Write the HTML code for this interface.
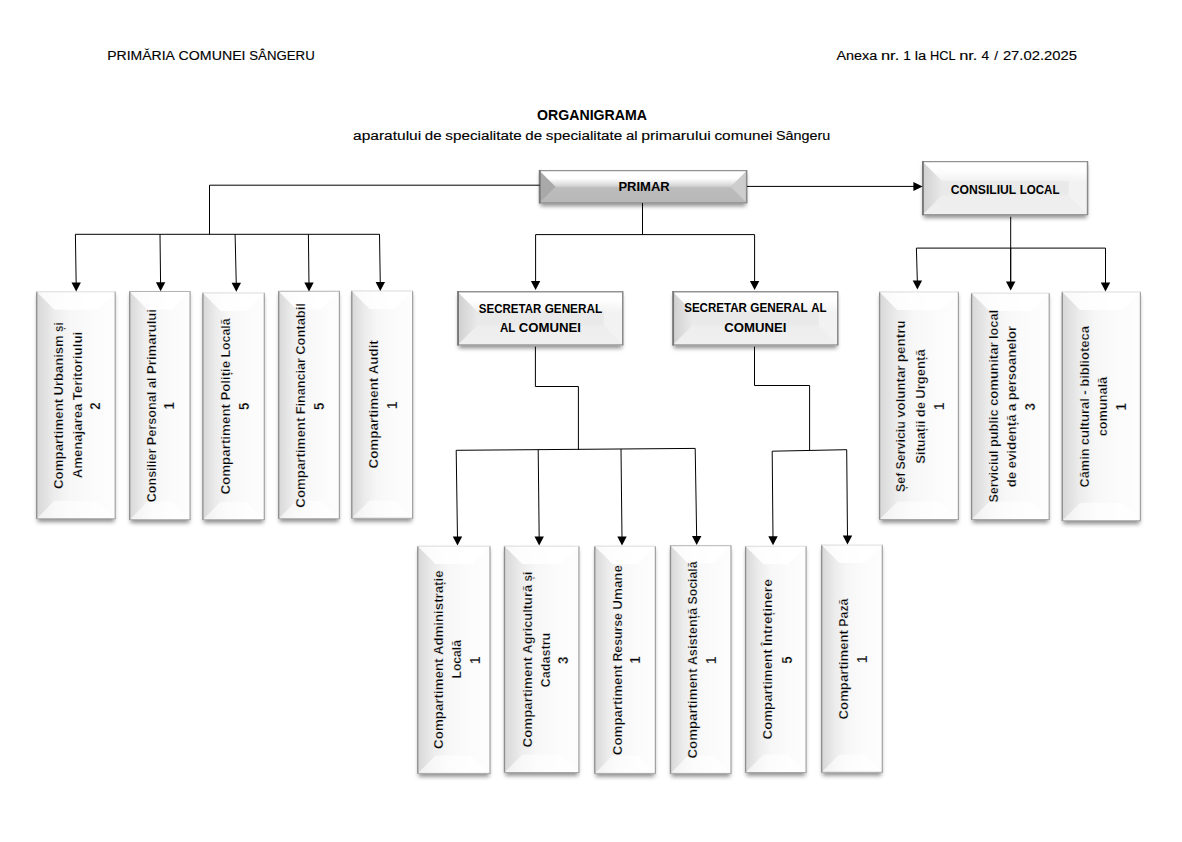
<!DOCTYPE html>
<html lang="ro"><head><meta charset="utf-8"><title>Organigrama</title>
<style>html,body{margin:0;padding:0;background:#fff}body{width:1182px;height:842px;overflow:hidden}svg{display:block}text{font-family:"Liberation Sans",sans-serif;fill:#000}.vb{stroke:#f7f7f7;stroke-width:0.3px}</style></head><body>
<svg width="1182" height="842" viewBox="0 0 1182 842">
<defs>
<filter id="sh" x="-20%" y="-20%" width="140%" height="140%"><feGaussianBlur stdDeviation="2.1"/></filter>
<linearGradient id="gv" x1="0" y1="0" x2="1" y2="0"><stop offset="0" stop-color="#d7d7d7"/><stop offset="0.22" stop-color="#ececec"/><stop offset="0.42" stop-color="#f7f7f7"/><stop offset="0.7" stop-color="#fbfbfb"/><stop offset="1" stop-color="#fdfdfd"/></linearGradient>
<linearGradient id="gh" x1="0" y1="0" x2="0" y2="1"><stop offset="0" stop-color="#ffffff"/><stop offset="0.18" stop-color="#fdfdfd"/><stop offset="0.4" stop-color="#e9e9e9"/><stop offset="1" stop-color="#ebebeb"/></linearGradient>
<linearGradient id="ghl" x1="0" y1="0" x2="1" y2="0" gradientUnits="objectBoundingBox"><stop offset="0" stop-color="#cfcfcf"/><stop offset="1" stop-color="#e9e9e9"/></linearGradient>
<linearGradient id="gp" x1="0" y1="0" x2="0" y2="1"><stop offset="0" stop-color="#ffffff"/><stop offset="0.25" stop-color="#ffffff"/><stop offset="0.4" stop-color="#e4e4e4"/><stop offset="0.55" stop-color="#c3c3c3"/><stop offset="1" stop-color="#bfbfbf"/></linearGradient>
</defs>
<rect width="1182" height="842" fill="#fff"/>
<g id="boxes">
<rect x="37.5" y="295" width="76.9" height="227" fill="#000" fill-opacity="0.44" filter="url(#sh)"/>
<rect x="36.3" y="291.5" width="79.3" height="227.5" fill="url(#gv)"/>
<polygon points="36.3,291.5 54.5,309.7 54.5,500.8 36.3,519" fill="rgba(0,0,0,0)"/>
<polygon points="115.6,291.5 97.4,309.7 97.4,500.8 115.6,519" fill="rgba(255,255,255,0.1)"/>
<polygon points="36.3,291.5 115.6,291.5 97.4,309.7 54.5,309.7" fill="rgba(255,255,255,0.85)"/>
<polygon points="36.3,519 115.6,519 97.4,500.8 54.5,500.8" fill="rgba(255,255,255,0.62)"/>
<path d="M36.7 291.5V519" stroke="#8e8e8e" stroke-width="1.3" fill="none"/>
<path d="M115.2 291.5V519" stroke="#a2a2a2" stroke-width="1.2" fill="none"/>
<path d="M36.3 291.8H115.6" stroke="#dedede" stroke-width="1" fill="none"/>
<path d="M36.3 518.7H115.6" stroke="#a6a6a6" stroke-width="1" fill="none"/>
<rect x="130.5" y="294.7" width="58.8" height="228.3" fill="#000" fill-opacity="0.44" filter="url(#sh)"/>
<rect x="129.3" y="291.2" width="61.2" height="228.8" fill="url(#gv)"/>
<polygon points="129.3,291.2 147.5,309.4 147.5,501.8 129.3,520" fill="rgba(0,0,0,0)"/>
<polygon points="190.5,291.2 172.3,309.4 172.3,501.8 190.5,520" fill="rgba(255,255,255,0.1)"/>
<polygon points="129.3,291.2 190.5,291.2 172.3,309.4 147.5,309.4" fill="rgba(255,255,255,0.85)"/>
<polygon points="129.3,520 190.5,520 172.3,501.8 147.5,501.8" fill="rgba(255,255,255,0.62)"/>
<path d="M129.7 291.2V520" stroke="#8e8e8e" stroke-width="1.3" fill="none"/>
<path d="M190.1 291.2V520" stroke="#a2a2a2" stroke-width="1.2" fill="none"/>
<path d="M129.3 291.5H190.5" stroke="#b4b4b4" stroke-width="1" fill="none"/>
<path d="M129.3 519.7H190.5" stroke="#a6a6a6" stroke-width="1" fill="none"/>
<rect x="203.7" y="296.2" width="59.8" height="226.8" fill="#000" fill-opacity="0.44" filter="url(#sh)"/>
<rect x="202.5" y="292.7" width="62.2" height="227.3" fill="url(#gv)"/>
<polygon points="202.5,292.7 220.7,310.9 220.7,501.8 202.5,520" fill="rgba(0,0,0,0)"/>
<polygon points="264.7,292.7 246.5,310.9 246.5,501.8 264.7,520" fill="rgba(255,255,255,0.1)"/>
<polygon points="202.5,292.7 264.7,292.7 246.5,310.9 220.7,310.9" fill="rgba(255,255,255,0.85)"/>
<polygon points="202.5,520 264.7,520 246.5,501.8 220.7,501.8" fill="rgba(255,255,255,0.62)"/>
<path d="M202.9 292.7V520" stroke="#8e8e8e" stroke-width="1.3" fill="none"/>
<path d="M264.3 292.7V520" stroke="#a2a2a2" stroke-width="1.2" fill="none"/>
<path d="M202.5 293H264.7" stroke="#dedede" stroke-width="1" fill="none"/>
<path d="M202.5 519.7H264.7" stroke="#a6a6a6" stroke-width="1" fill="none"/>
<rect x="279.5" y="294.5" width="59.1" height="227.5" fill="#000" fill-opacity="0.44" filter="url(#sh)"/>
<rect x="278.3" y="291" width="61.5" height="228" fill="url(#gv)"/>
<polygon points="278.3,291 296.5,309.2 296.5,500.8 278.3,519" fill="rgba(0,0,0,0)"/>
<polygon points="339.8,291 321.6,309.2 321.6,500.8 339.8,519" fill="rgba(255,255,255,0.1)"/>
<polygon points="278.3,291 339.8,291 321.6,309.2 296.5,309.2" fill="rgba(255,255,255,0.85)"/>
<polygon points="278.3,519 339.8,519 321.6,500.8 296.5,500.8" fill="rgba(255,255,255,0.62)"/>
<path d="M278.7 291V519" stroke="#8e8e8e" stroke-width="1.3" fill="none"/>
<path d="M339.4 291V519" stroke="#a2a2a2" stroke-width="1.2" fill="none"/>
<path d="M278.3 291.3H339.8" stroke="#b4b4b4" stroke-width="1" fill="none"/>
<path d="M278.3 518.7H339.8" stroke="#a6a6a6" stroke-width="1" fill="none"/>
<rect x="352.6" y="294.2" width="59.2" height="227.4" fill="#000" fill-opacity="0.44" filter="url(#sh)"/>
<rect x="351.4" y="290.7" width="61.6" height="227.9" fill="url(#gv)"/>
<polygon points="351.4,290.7 369.6,308.9 369.6,500.4 351.4,518.6" fill="rgba(0,0,0,0)"/>
<polygon points="413,290.7 394.8,308.9 394.8,500.4 413,518.6" fill="rgba(255,255,255,0.1)"/>
<polygon points="351.4,290.7 413,290.7 394.8,308.9 369.6,308.9" fill="rgba(255,255,255,0.85)"/>
<polygon points="351.4,518.6 413,518.6 394.8,500.4 369.6,500.4" fill="rgba(255,255,255,0.62)"/>
<path d="M351.8 290.7V518.6" stroke="#8e8e8e" stroke-width="1.3" fill="none"/>
<path d="M412.6 290.7V518.6" stroke="#a2a2a2" stroke-width="1.2" fill="none"/>
<path d="M351.4 291H413" stroke="#dedede" stroke-width="1" fill="none"/>
<path d="M351.4 518.3H413" stroke="#a6a6a6" stroke-width="1" fill="none"/>
<rect x="418.6" y="549.4" width="70.6" height="227.3" fill="#000" fill-opacity="0.44" filter="url(#sh)"/>
<rect x="417.4" y="545.9" width="73" height="227.8" fill="url(#gv)"/>
<polygon points="417.4,545.9 435.6,564.1 435.6,755.5 417.4,773.7" fill="rgba(0,0,0,0)"/>
<polygon points="490.4,545.9 472.2,564.1 472.2,755.5 490.4,773.7" fill="rgba(255,255,255,0.1)"/>
<polygon points="417.4,545.9 490.4,545.9 472.2,564.1 435.6,564.1" fill="rgba(255,255,255,0.85)"/>
<polygon points="417.4,773.7 490.4,773.7 472.2,755.5 435.6,755.5" fill="rgba(255,255,255,0.62)"/>
<path d="M417.8 545.9V773.7" stroke="#8e8e8e" stroke-width="1.3" fill="none"/>
<path d="M490 545.9V773.7" stroke="#a2a2a2" stroke-width="1.2" fill="none"/>
<path d="M417.4 546.2H490.4" stroke="#dedede" stroke-width="1" fill="none"/>
<path d="M417.4 773.4H490.4" stroke="#a6a6a6" stroke-width="1" fill="none"/>
<rect x="505.3" y="549.4" width="72.8" height="226.4" fill="#000" fill-opacity="0.44" filter="url(#sh)"/>
<rect x="504.1" y="545.9" width="75.2" height="226.9" fill="url(#gv)"/>
<polygon points="504.1,545.9 522.3,564.1 522.3,754.6 504.1,772.8" fill="rgba(0,0,0,0)"/>
<polygon points="579.3,545.9 561.1,564.1 561.1,754.6 579.3,772.8" fill="rgba(255,255,255,0.1)"/>
<polygon points="504.1,545.9 579.3,545.9 561.1,564.1 522.3,564.1" fill="rgba(255,255,255,0.85)"/>
<polygon points="504.1,772.8 579.3,772.8 561.1,754.6 522.3,754.6" fill="rgba(255,255,255,0.62)"/>
<path d="M504.5 545.9V772.8" stroke="#8e8e8e" stroke-width="1.3" fill="none"/>
<path d="M578.9 545.9V772.8" stroke="#a2a2a2" stroke-width="1.2" fill="none"/>
<path d="M504.1 546.2H579.3" stroke="#dedede" stroke-width="1" fill="none"/>
<path d="M504.1 772.5H579.3" stroke="#a6a6a6" stroke-width="1" fill="none"/>
<rect x="595.6" y="549.4" width="59" height="227.3" fill="#000" fill-opacity="0.44" filter="url(#sh)"/>
<rect x="594.4" y="545.9" width="61.4" height="227.8" fill="url(#gv)"/>
<polygon points="594.4,545.9 612.6,564.1 612.6,755.5 594.4,773.7" fill="rgba(0,0,0,0)"/>
<polygon points="655.8,545.9 637.6,564.1 637.6,755.5 655.8,773.7" fill="rgba(255,255,255,0.1)"/>
<polygon points="594.4,545.9 655.8,545.9 637.6,564.1 612.6,564.1" fill="rgba(255,255,255,0.85)"/>
<polygon points="594.4,773.7 655.8,773.7 637.6,755.5 612.6,755.5" fill="rgba(255,255,255,0.62)"/>
<path d="M594.8 545.9V773.7" stroke="#8e8e8e" stroke-width="1.3" fill="none"/>
<path d="M655.4 545.9V773.7" stroke="#a2a2a2" stroke-width="1.2" fill="none"/>
<path d="M594.4 546.2H655.8" stroke="#dedede" stroke-width="1" fill="none"/>
<path d="M594.4 773.4H655.8" stroke="#a6a6a6" stroke-width="1" fill="none"/>
<rect x="671.3" y="548.9" width="58.9" height="227.8" fill="#000" fill-opacity="0.44" filter="url(#sh)"/>
<rect x="670.1" y="545.4" width="61.3" height="228.3" fill="url(#gv)"/>
<polygon points="670.1,545.4 688.3,563.6 688.3,755.5 670.1,773.7" fill="rgba(0,0,0,0)"/>
<polygon points="731.4,545.4 713.2,563.6 713.2,755.5 731.4,773.7" fill="rgba(255,255,255,0.1)"/>
<polygon points="670.1,545.4 731.4,545.4 713.2,563.6 688.3,563.6" fill="rgba(255,255,255,0.85)"/>
<polygon points="670.1,773.7 731.4,773.7 713.2,755.5 688.3,755.5" fill="rgba(255,255,255,0.62)"/>
<path d="M670.5 545.4V773.7" stroke="#8e8e8e" stroke-width="1.3" fill="none"/>
<path d="M731 545.4V773.7" stroke="#a2a2a2" stroke-width="1.2" fill="none"/>
<path d="M670.1 545.7H731.4" stroke="#b4b4b4" stroke-width="1" fill="none"/>
<path d="M670.1 773.4H731.4" stroke="#a6a6a6" stroke-width="1" fill="none"/>
<rect x="746.4" y="549.5" width="58.9" height="226.3" fill="#000" fill-opacity="0.44" filter="url(#sh)"/>
<rect x="745.2" y="546" width="61.3" height="226.8" fill="url(#gv)"/>
<polygon points="745.2,546 763.4,564.2 763.4,754.6 745.2,772.8" fill="rgba(0,0,0,0)"/>
<polygon points="806.5,546 788.3,564.2 788.3,754.6 806.5,772.8" fill="rgba(255,255,255,0.1)"/>
<polygon points="745.2,546 806.5,546 788.3,564.2 763.4,564.2" fill="rgba(255,255,255,0.85)"/>
<polygon points="745.2,772.8 806.5,772.8 788.3,754.6 763.4,754.6" fill="rgba(255,255,255,0.62)"/>
<path d="M745.6 546V772.8" stroke="#8e8e8e" stroke-width="1.3" fill="none"/>
<path d="M806.1 546V772.8" stroke="#a2a2a2" stroke-width="1.2" fill="none"/>
<path d="M745.2 546.3H806.5" stroke="#dedede" stroke-width="1" fill="none"/>
<path d="M745.2 772.5H806.5" stroke="#a6a6a6" stroke-width="1" fill="none"/>
<rect x="822.5" y="548.3" width="59" height="227.3" fill="#000" fill-opacity="0.44" filter="url(#sh)"/>
<rect x="821.3" y="544.8" width="61.4" height="227.8" fill="url(#gv)"/>
<polygon points="821.3,544.8 839.5,563 839.5,754.4 821.3,772.6" fill="rgba(0,0,0,0)"/>
<polygon points="882.7,544.8 864.5,563 864.5,754.4 882.7,772.6" fill="rgba(255,255,255,0.1)"/>
<polygon points="821.3,544.8 882.7,544.8 864.5,563 839.5,563" fill="rgba(255,255,255,0.85)"/>
<polygon points="821.3,772.6 882.7,772.6 864.5,754.4 839.5,754.4" fill="rgba(255,255,255,0.62)"/>
<path d="M821.7 544.8V772.6" stroke="#8e8e8e" stroke-width="1.3" fill="none"/>
<path d="M882.3 544.8V772.6" stroke="#a2a2a2" stroke-width="1.2" fill="none"/>
<path d="M821.3 545.1H882.7" stroke="#dedede" stroke-width="1" fill="none"/>
<path d="M821.3 772.3H882.7" stroke="#a6a6a6" stroke-width="1" fill="none"/>
<rect x="880.4" y="295.2" width="77.2" height="227.6" fill="#000" fill-opacity="0.44" filter="url(#sh)"/>
<rect x="879.2" y="291.7" width="79.6" height="228.1" fill="url(#gv)"/>
<polygon points="879.2,291.7 897.4,309.9 897.4,501.6 879.2,519.8" fill="rgba(0,0,0,0)"/>
<polygon points="958.8,291.7 940.6,309.9 940.6,501.6 958.8,519.8" fill="rgba(255,255,255,0.1)"/>
<polygon points="879.2,291.7 958.8,291.7 940.6,309.9 897.4,309.9" fill="rgba(255,255,255,0.85)"/>
<polygon points="879.2,519.8 958.8,519.8 940.6,501.6 897.4,501.6" fill="rgba(255,255,255,0.62)"/>
<path d="M879.6 291.7V519.8" stroke="#8e8e8e" stroke-width="1.3" fill="none"/>
<path d="M958.4 291.7V519.8" stroke="#a2a2a2" stroke-width="1.2" fill="none"/>
<path d="M879.2 292H958.8" stroke="#dedede" stroke-width="1" fill="none"/>
<path d="M879.2 519.5H958.8" stroke="#a6a6a6" stroke-width="1" fill="none"/>
<rect x="972.4" y="296.4" width="76" height="226.4" fill="#000" fill-opacity="0.44" filter="url(#sh)"/>
<rect x="971.2" y="292.9" width="78.4" height="226.9" fill="url(#gv)"/>
<polygon points="971.2,292.9 989.4,311.1 989.4,501.6 971.2,519.8" fill="rgba(0,0,0,0)"/>
<polygon points="1049.6,292.9 1031.4,311.1 1031.4,501.6 1049.6,519.8" fill="rgba(255,255,255,0.1)"/>
<polygon points="971.2,292.9 1049.6,292.9 1031.4,311.1 989.4,311.1" fill="rgba(255,255,255,0.85)"/>
<polygon points="971.2,519.8 1049.6,519.8 1031.4,501.6 989.4,501.6" fill="rgba(255,255,255,0.62)"/>
<path d="M971.6 292.9V519.8" stroke="#8e8e8e" stroke-width="1.3" fill="none"/>
<path d="M1049.2 292.9V519.8" stroke="#a2a2a2" stroke-width="1.2" fill="none"/>
<path d="M971.2 293.2H1049.6" stroke="#dedede" stroke-width="1" fill="none"/>
<path d="M971.2 519.5H1049.6" stroke="#a6a6a6" stroke-width="1" fill="none"/>
<rect x="1063.1" y="295.2" width="76.5" height="228.8" fill="#000" fill-opacity="0.44" filter="url(#sh)"/>
<rect x="1061.9" y="291.7" width="78.9" height="229.3" fill="url(#gv)"/>
<polygon points="1061.9,291.7 1080.1,309.9 1080.1,502.8 1061.9,521" fill="rgba(0,0,0,0)"/>
<polygon points="1140.8,291.7 1122.6,309.9 1122.6,502.8 1140.8,521" fill="rgba(255,255,255,0.1)"/>
<polygon points="1061.9,291.7 1140.8,291.7 1122.6,309.9 1080.1,309.9" fill="rgba(255,255,255,0.85)"/>
<polygon points="1061.9,521 1140.8,521 1122.6,502.8 1080.1,502.8" fill="rgba(255,255,255,0.62)"/>
<path d="M1062.3 291.7V521" stroke="#8e8e8e" stroke-width="1.3" fill="none"/>
<path d="M1140.4 291.7V521" stroke="#a2a2a2" stroke-width="1.2" fill="none"/>
<path d="M1061.9 292H1140.8" stroke="#dedede" stroke-width="1" fill="none"/>
<path d="M1061.9 520.7H1140.8" stroke="#a6a6a6" stroke-width="1" fill="none"/>
<rect x="923.5" y="164.8" width="163.3" height="53.1" fill="#000" fill-opacity="0.44" filter="url(#sh)"/>
<rect x="922.3" y="161.3" width="165.7" height="53.6" fill="url(#gh)"/>
<polygon points="922.3,161.3 941.8,180.8 941.8,195.4 922.3,214.9" fill="url(#ghl)"/>
<polygon points="1088,161.3 1068.5,180.8 1068.5,195.4 1088,214.9" fill="rgba(255,255,255,0.4)"/>
<polygon points="922.3,161.3 1088,161.3 1068.5,180.8 941.8,180.8" fill="rgba(255,255,255,0.3)"/>
<polygon points="922.3,214.9 1088,214.9 1068.5,195.4 941.8,195.4" fill="rgba(255,255,255,0.2)"/>
<path d="M922.3 161.65H1088" stroke="#939393" stroke-width="1.3" fill="none"/>
<path d="M922.3 214.55H1088" stroke="#9a9a9a" stroke-width="1.3" fill="none"/>
<path d="M1087.55 161.3V214.9" stroke="#8a8a8a" stroke-width="1.5" fill="none"/>
<path d="M922.95 161V215.2" stroke="#787878" stroke-width="1.9" fill="none"/>
<rect x="458.6" y="294.9" width="163.4" height="53.3" fill="#000" fill-opacity="0.44" filter="url(#sh)"/>
<rect x="457.4" y="291.4" width="165.8" height="53.8" fill="url(#gh)"/>
<polygon points="457.4,291.4 476.9,310.9 476.9,325.7 457.4,345.2" fill="url(#ghl)"/>
<polygon points="623.2,291.4 603.7,310.9 603.7,325.7 623.2,345.2" fill="rgba(255,255,255,0.4)"/>
<polygon points="457.4,291.4 623.2,291.4 603.7,310.9 476.9,310.9" fill="rgba(255,255,255,0.3)"/>
<polygon points="457.4,345.2 623.2,345.2 603.7,325.7 476.9,325.7" fill="rgba(255,255,255,0.2)"/>
<path d="M457.4 291.75H623.2" stroke="#939393" stroke-width="1.3" fill="none"/>
<path d="M457.4 344.85H623.2" stroke="#9a9a9a" stroke-width="1.3" fill="none"/>
<path d="M622.75 291.4V345.2" stroke="#8a8a8a" stroke-width="1.5" fill="none"/>
<path d="M458.05 291.1V345.5" stroke="#787878" stroke-width="1.9" fill="none"/>
<rect x="673.7" y="294.9" width="163.3" height="53.3" fill="#000" fill-opacity="0.44" filter="url(#sh)"/>
<rect x="672.5" y="291.4" width="165.7" height="53.8" fill="url(#gh)"/>
<polygon points="672.5,291.4 692,310.9 692,325.7 672.5,345.2" fill="url(#ghl)"/>
<polygon points="838.2,291.4 818.7,310.9 818.7,325.7 838.2,345.2" fill="rgba(255,255,255,0.4)"/>
<polygon points="672.5,291.4 838.2,291.4 818.7,310.9 692,310.9" fill="rgba(255,255,255,0.3)"/>
<polygon points="672.5,345.2 838.2,345.2 818.7,325.7 692,325.7" fill="rgba(255,255,255,0.2)"/>
<path d="M672.5 291.75H838.2" stroke="#939393" stroke-width="1.3" fill="none"/>
<path d="M672.5 344.85H838.2" stroke="#9a9a9a" stroke-width="1.3" fill="none"/>
<path d="M837.75 291.4V345.2" stroke="#8a8a8a" stroke-width="1.5" fill="none"/>
<path d="M673.15 291.1V345.5" stroke="#787878" stroke-width="1.9" fill="none"/>
<rect x="540.3" y="173.7" width="205.6" height="32.4" fill="#000" fill-opacity="0.44" filter="url(#sh)"/>
<rect x="539.1" y="170.2" width="208" height="32.9" fill="url(#gp)"/>
<polygon points="539.1,170.2 555.55,186.65 555.55,186.65 539.1,203.1" fill="#a9a9a9"/>
<polygon points="747.1,170.2 730.65,186.65 730.65,186.65 747.1,203.1" fill="#cdcdcd"/>
<polygon points="539.1,170.2 747.1,170.2 730.65,186.65 555.55,186.65" fill="rgba(255,255,255,0)"/>
<polygon points="539.1,203.1 747.1,203.1 730.65,186.65 555.55,186.65" fill="rgba(0,0,0,0.035)"/>
<path d="M539.1 170.55H747.1" stroke="#939393" stroke-width="1.3" fill="none"/>
<path d="M539.1 202.75H747.1" stroke="#9a9a9a" stroke-width="1.3" fill="none"/>
<path d="M746.65 170.2V203.1" stroke="#8a8a8a" stroke-width="1.5" fill="none"/>
<path d="M539.75 169.9V203.4" stroke="#787878" stroke-width="1.9" fill="none"/>
</g>
<g id="lines" fill="none" stroke="#000" stroke-width="1.0" stroke-linejoin="miter">
<path d="M539.5 185.2H209.5V234.3"/>
<path d="M75.3 234.3H379.7"/>
<path d="M75.4 234.3L76.2 285.5"/>
<path d="M160 234.3L160.6 285.3"/>
<path d="M235.1 234.3L236.3 285.7"/>
<path d="M308.4 234.3L309 285.6"/>
<path d="M379.5 234.3L380.3 285"/>
<path d="M747 186.4H915"/>
<path d="M642.5 203V234.6"/>
<path d="M535.6 234.6H754.6"/>
<path d="M535.6 234.6L535.6 284.1"/>
<path d="M754.6 234.6L754.6 284.1"/>
<path d="M535.4 346.7V386.5H578.4V449.8"/>
<path d="M456.2 450.3L695.2 448.4"/>
<path d="M456.2 450.3L457.5 539.5"/>
<path d="M538.2 449.7L539.2 539.5"/>
<path d="M621 449L622 539.5"/>
<path d="M695.2 448.4L696.7 539"/>
<path d="M754.5 346.7V385.5H809.6V451"/>
<path d="M772.2 451.2L846.7 449.7"/>
<path d="M772.2 451.2L773 539.2"/>
<path d="M846.7 449.7L847.5 538.5"/>
<path d="M1010.7 216.8V285"/>
<path d="M916.4 248.1H1105.5"/>
<path d="M916.4 248.1L917.4 283.6"/>
<path d="M1010.7 248.1L1010.7 284.6"/>
<path d="M1105.5 248.1L1105.5 285.6"/>
</g>
<g id="arrows" fill="#000">
<polygon points="71.5,282.5 80.9,282.5 76.2,291.5"/>
<polygon points="155.9,282.3 165.3,282.3 160.6,291.3"/>
<polygon points="231.6,282.7 241,282.7 236.3,291.7"/>
<polygon points="304.3,282.6 313.7,282.6 309,291.6"/>
<polygon points="375.6,282 385,282 380.3,291"/>
<polygon points="913.4,182 913.4,191 922.6,186.5"/>
<polygon points="530.9,281.1 540.3,281.1 535.6,290.1"/>
<polygon points="749.9,281.1 759.3,281.1 754.6,290.1"/>
<polygon points="452.8,536.5 462.2,536.5 457.5,545.5"/>
<polygon points="534.5,536.5 543.9,536.5 539.2,545.5"/>
<polygon points="617.3,536.5 626.7,536.5 622,545.5"/>
<polygon points="692,536 701.4,536 696.7,545"/>
<polygon points="768.3,536.2 777.7,536.2 773,545.2"/>
<polygon points="842.8,535.5 852.2,535.5 847.5,544.5"/>
<polygon points="912.7,280.6 922.1,280.6 917.4,289.6"/>
<polygon points="1006,281.6 1015.4,281.6 1010.7,290.6"/>
<polygon points="1100.8,282.6 1110.2,282.6 1105.5,291.6"/>
</g>
<g id="labels">
<text x="107.3" y="59.9" font-size="13.7" stroke="#000" stroke-width="0.14" textLength="67.61" lengthAdjust="spacingAndGlyphs">PRIMĂRIA</text>
<text x="178.62" y="59.9" font-size="13.7" stroke="#000" stroke-width="0.14" textLength="66.92" lengthAdjust="spacingAndGlyphs">COMUNEI</text>
<text x="249.25" y="59.9" font-size="13.7" stroke="#000" stroke-width="0.14" textLength="65.45" lengthAdjust="spacingAndGlyphs">SÂNGERU</text>
<text x="836.5" y="59.8" font-size="13.7" stroke="#000" stroke-width="0.14" textLength="40.79" lengthAdjust="spacingAndGlyphs">Anexa</text>
<text x="880.95" y="59.8" font-size="13.7" stroke="#000" stroke-width="0.14" textLength="18.27" lengthAdjust="spacingAndGlyphs">nr.</text>
<text x="907" y="59.8" font-size="13.7" stroke="#000" stroke-width="0.14" text-anchor="middle">1</text>
<text x="914.78" y="59.8" font-size="13.7" stroke="#000" stroke-width="0.14" textLength="11.49" lengthAdjust="spacingAndGlyphs">la</text>
<text x="929.93" y="59.8" font-size="13.7" stroke="#000" stroke-width="0.14" textLength="25.57" lengthAdjust="spacingAndGlyphs">HCL</text>
<text x="959.17" y="59.8" font-size="13.7" stroke="#000" stroke-width="0.14" textLength="18.27" lengthAdjust="spacingAndGlyphs">nr.</text>
<text x="985.21" y="59.8" font-size="13.7" stroke="#000" stroke-width="0.14" text-anchor="middle">4</text>
<text x="996.12" y="59.8" font-size="13.7" stroke="#000" stroke-width="0.14" text-anchor="middle">/</text>
<text x="1002.92" y="59.8" font-size="13.7" stroke="#000" stroke-width="0.14" textLength="73.98" lengthAdjust="spacingAndGlyphs">27.02.2025</text>
<text x="537.1" y="119.9" font-size="14.1" font-weight="700" textLength="109.9" lengthAdjust="spacingAndGlyphs">ORGANIGRAMA</text>
<text x="353" y="139.5" font-size="13.7" stroke="#000" stroke-width="0.14" textLength="68.17" lengthAdjust="spacingAndGlyphs">aparatului</text>
<text x="424.88" y="139.5" font-size="13.7" stroke="#000" stroke-width="0.14" textLength="16.79" lengthAdjust="spacingAndGlyphs">de</text>
<text x="445.37" y="139.5" font-size="13.7" stroke="#000" stroke-width="0.14" textLength="76.31" lengthAdjust="spacingAndGlyphs">specialitate</text>
<text x="525.39" y="139.5" font-size="13.7" stroke="#000" stroke-width="0.14" textLength="16.79" lengthAdjust="spacingAndGlyphs">de</text>
<text x="545.88" y="139.5" font-size="13.7" stroke="#000" stroke-width="0.14" textLength="76.31" lengthAdjust="spacingAndGlyphs">specialitate</text>
<text x="625.9" y="139.5" font-size="13.7" stroke="#000" stroke-width="0.14" textLength="11.62" lengthAdjust="spacingAndGlyphs">al</text>
<text x="641.22" y="139.5" font-size="13.7" stroke="#000" stroke-width="0.14" textLength="69.55" lengthAdjust="spacingAndGlyphs">primarului</text>
<text x="714.48" y="139.5" font-size="13.7" stroke="#000" stroke-width="0.14" textLength="57.86" lengthAdjust="spacingAndGlyphs">comunei</text>
<text x="776.05" y="139.5" font-size="13.7" stroke="#000" stroke-width="0.14" textLength="54.25" lengthAdjust="spacingAndGlyphs">Sângeru</text>
<text x="618.4" y="190.9" font-size="13.4" font-weight="700" textLength="51.3" lengthAdjust="spacingAndGlyphs">PRIMAR</text>
<text x="950.8" y="193.9" font-size="13.4" font-weight="700" textLength="65.49" lengthAdjust="spacingAndGlyphs">CONSILIUL</text>
<text x="1019.68" y="193.9" font-size="13.4" font-weight="700" textLength="39.82" lengthAdjust="spacingAndGlyphs">LOCAL</text>
<text x="478.8" y="312.7" font-size="13.4" font-weight="700" textLength="62.5" lengthAdjust="spacingAndGlyphs">SECRETAR</text>
<text x="544.66" y="312.7" font-size="13.4" font-weight="700" textLength="57.44" lengthAdjust="spacingAndGlyphs">GENERAL</text>
<text x="499.9" y="331.7" font-size="13.4" font-weight="700" textLength="15.43" lengthAdjust="spacingAndGlyphs">AL</text>
<text x="518.72" y="331.7" font-size="13.4" font-weight="700" textLength="62.18" lengthAdjust="spacingAndGlyphs">COMUNEI</text>
<text x="684.2" y="311.8" font-size="13.4" font-weight="700" textLength="62.66" lengthAdjust="spacingAndGlyphs">SECRETAR</text>
<text x="750.22" y="311.8" font-size="13.4" font-weight="700" textLength="57.58" lengthAdjust="spacingAndGlyphs">GENERAL</text>
<text x="811.17" y="311.8" font-size="13.4" font-weight="700" textLength="15.33" lengthAdjust="spacingAndGlyphs">AL</text>
<text x="724.3" y="331.7" font-size="13.4" font-weight="700" textLength="62.1" lengthAdjust="spacingAndGlyphs">COMUNEI</text>
<text class="vb" transform="translate(63.1 489) rotate(-90)" font-size="13.6" font-weight="700" textLength="90.21" lengthAdjust="spacingAndGlyphs">Compartiment</text>
<text class="vb" transform="translate(63.1 395.43) rotate(-90)" font-size="13.6" font-weight="700" textLength="60.06" lengthAdjust="spacingAndGlyphs">Urbanism</text>
<text class="vb" transform="translate(63.1 332) rotate(-90)" font-size="13.6" font-weight="700" textLength="9.6" lengthAdjust="spacingAndGlyphs">și</text>
<text class="vb" transform="translate(81.8 478.3) rotate(-90)" font-size="13.6" font-weight="700" textLength="74.61" lengthAdjust="spacingAndGlyphs">Amenajarea</text>
<text class="vb" transform="translate(81.8 400.36) rotate(-90)" font-size="13.6" font-weight="700" textLength="68.66" lengthAdjust="spacingAndGlyphs">Teritoriului</text>
<text class="vb" transform="translate(155.8 502.2) rotate(-90)" font-size="13.6" font-weight="700" textLength="53.56" lengthAdjust="spacingAndGlyphs">Consilier</text>
<text class="vb" transform="translate(155.8 445.28) rotate(-90)" font-size="13.6" font-weight="700" textLength="53.64" lengthAdjust="spacingAndGlyphs">Personal</text>
<text class="vb" transform="translate(155.8 388.28) rotate(-90)" font-size="13.6" font-weight="700" textLength="11.01" lengthAdjust="spacingAndGlyphs">al</text>
<text class="vb" transform="translate(155.8 373.9) rotate(-90)" font-size="13.6" font-weight="700" textLength="64.9" lengthAdjust="spacingAndGlyphs">Primarului</text>
<text class="vb" transform="translate(229.8 494.6) rotate(-90)" font-size="13.6" font-weight="700" textLength="90.61" lengthAdjust="spacingAndGlyphs">Compartiment</text>
<text class="vb" transform="translate(229.8 400.61) rotate(-90)" font-size="13.6" font-weight="700" textLength="39.75" lengthAdjust="spacingAndGlyphs">Poliție</text>
<text class="vb" transform="translate(229.8 357.48) rotate(-90)" font-size="13.6" font-weight="700" textLength="39.08" lengthAdjust="spacingAndGlyphs">Locală</text>
<text class="vb" transform="translate(305.3 507.7) rotate(-90)" font-size="13.6" font-weight="700" textLength="90.02" lengthAdjust="spacingAndGlyphs">Compartiment</text>
<text class="vb" transform="translate(305.3 414.32) rotate(-90)" font-size="13.6" font-weight="700" textLength="56.25" lengthAdjust="spacingAndGlyphs">Financiar</text>
<text class="vb" transform="translate(305.3 354.71) rotate(-90)" font-size="13.6" font-weight="700" textLength="51.61" lengthAdjust="spacingAndGlyphs">Contabil</text>
<text class="vb" transform="translate(378 468.5) rotate(-90)" font-size="13.6" font-weight="700" textLength="90.84" lengthAdjust="spacingAndGlyphs">Compartiment</text>
<text class="vb" transform="translate(378 374.28) rotate(-90)" font-size="13.6" font-weight="700" textLength="34.08" lengthAdjust="spacingAndGlyphs">Audit</text>
<text class="vb" transform="translate(442.8 748.9) rotate(-90)" font-size="13.6" font-weight="700" textLength="90.42" lengthAdjust="spacingAndGlyphs">Compartiment</text>
<text class="vb" transform="translate(442.8 655.11) rotate(-90)" font-size="13.6" font-weight="700" textLength="84.71" lengthAdjust="spacingAndGlyphs">Administrație</text>
<text class="vb" transform="translate(461.3 678.5) rotate(-90)" font-size="13.6" font-weight="700" textLength="38.4" lengthAdjust="spacingAndGlyphs">Locală</text>
<text class="vb" transform="translate(531.5 747.5) rotate(-90)" font-size="13.6" font-weight="700" textLength="90.44" lengthAdjust="spacingAndGlyphs">Compartiment</text>
<text class="vb" transform="translate(531.5 653.69) rotate(-90)" font-size="13.6" font-weight="700" textLength="68.89" lengthAdjust="spacingAndGlyphs">Agricultură</text>
<text class="vb" transform="translate(531.5 581.43) rotate(-90)" font-size="13.6" font-weight="700" textLength="9.63" lengthAdjust="spacingAndGlyphs">și</text>
<text class="vb" transform="translate(550.1 687.5) rotate(-90)" font-size="13.6" font-weight="700" textLength="54.8" lengthAdjust="spacingAndGlyphs">Cadastru</text>
<text class="vb" transform="translate(621.6 755.2) rotate(-90)" font-size="13.6" font-weight="700" textLength="90.24" lengthAdjust="spacingAndGlyphs">Compartiment</text>
<text class="vb" transform="translate(621.6 661.59) rotate(-90)" font-size="13.6" font-weight="700" textLength="48.54" lengthAdjust="spacingAndGlyphs">Resurse</text>
<text class="vb" transform="translate(621.6 609.68) rotate(-90)" font-size="13.6" font-weight="700" textLength="44.68" lengthAdjust="spacingAndGlyphs">Umane</text>
<text class="vb" transform="translate(696.9 758.5) rotate(-90)" font-size="13.6" font-weight="700" textLength="89.81" lengthAdjust="spacingAndGlyphs">Compartiment</text>
<text class="vb" transform="translate(696.9 665.35) rotate(-90)" font-size="13.6" font-weight="700" textLength="57.48" lengthAdjust="spacingAndGlyphs">Asistență</text>
<text class="vb" transform="translate(696.9 604.52) rotate(-90)" font-size="13.6" font-weight="700" textLength="43.12" lengthAdjust="spacingAndGlyphs">Socială</text>
<text class="vb" transform="translate(771.9 739.4) rotate(-90)" font-size="13.6" font-weight="700" textLength="90" lengthAdjust="spacingAndGlyphs">Compartiment</text>
<text class="vb" transform="translate(771.9 646.04) rotate(-90)" font-size="13.6" font-weight="700" textLength="66.84" lengthAdjust="spacingAndGlyphs">Întreținere</text>
<text class="vb" transform="translate(847.9 719.4) rotate(-90)" font-size="13.6" font-weight="700" textLength="89.31" lengthAdjust="spacingAndGlyphs">Compartiment</text>
<text class="vb" transform="translate(847.9 626.76) rotate(-90)" font-size="13.6" font-weight="700" textLength="28.26" lengthAdjust="spacingAndGlyphs">Pază</text>
<text class="vb" transform="translate(905.3 491.9) rotate(-90)" font-size="13.6" font-weight="700" textLength="19.16" lengthAdjust="spacingAndGlyphs">Șef</text>
<text class="vb" transform="translate(905.3 469.39) rotate(-90)" font-size="13.6" font-weight="700" textLength="48.21" lengthAdjust="spacingAndGlyphs">Serviciu</text>
<text class="vb" transform="translate(905.3 417.82) rotate(-90)" font-size="13.6" font-weight="700" textLength="52.31" lengthAdjust="spacingAndGlyphs">voluntar</text>
<text class="vb" transform="translate(905.3 362.16) rotate(-90)" font-size="13.6" font-weight="700" textLength="41.76" lengthAdjust="spacingAndGlyphs">pentru</text>
<text class="vb" transform="translate(924.8 463.8) rotate(-90)" font-size="13.6" font-weight="700" textLength="43.15" lengthAdjust="spacingAndGlyphs">Situații</text>
<text class="vb" transform="translate(924.8 417.33) rotate(-90)" font-size="13.6" font-weight="700" textLength="15.28" lengthAdjust="spacingAndGlyphs">de</text>
<text class="vb" transform="translate(924.8 398.72) rotate(-90)" font-size="13.6" font-weight="700" textLength="49.42" lengthAdjust="spacingAndGlyphs">Urgență</text>
<text class="vb" transform="translate(997.7 502.5) rotate(-90)" font-size="13.6" font-weight="700" textLength="52.09" lengthAdjust="spacingAndGlyphs">Serviciul</text>
<text class="vb" transform="translate(997.7 447.04) rotate(-90)" font-size="13.6" font-weight="700" textLength="37.55" lengthAdjust="spacingAndGlyphs">public</text>
<text class="vb" transform="translate(997.7 406.12) rotate(-90)" font-size="13.6" font-weight="700" textLength="63.83" lengthAdjust="spacingAndGlyphs">comunitar</text>
<text class="vb" transform="translate(997.7 338.93) rotate(-90)" font-size="13.6" font-weight="700" textLength="28.93" lengthAdjust="spacingAndGlyphs">local</text>
<text class="vb" transform="translate(1016.4 487.3) rotate(-90)" font-size="13.6" font-weight="700" textLength="15.45" lengthAdjust="spacingAndGlyphs">de</text>
<text class="vb" transform="translate(1016.4 468.49) rotate(-90)" font-size="13.6" font-weight="700" textLength="54.08" lengthAdjust="spacingAndGlyphs">evidență</text>
<text class="vb" transform="translate(1016.4 407.39) rotate(-90)" font-size="13.6" font-weight="700" text-anchor="middle">a</text>
<text class="vb" transform="translate(1016.4 400.36) rotate(-90)" font-size="13.6" font-weight="700" textLength="74.36" lengthAdjust="spacingAndGlyphs">persoanelor</text>
<text class="vb" transform="translate(1089.1 487.4) rotate(-90)" font-size="13.6" font-weight="700" textLength="38.82" lengthAdjust="spacingAndGlyphs">Cămin</text>
<text class="vb" transform="translate(1089.1 445.23) rotate(-90)" font-size="13.6" font-weight="700" textLength="47.14" lengthAdjust="spacingAndGlyphs">cultural</text>
<text class="vb" transform="translate(1089.1 392.47) rotate(-90)" font-size="13.6" font-weight="700" text-anchor="middle">-</text>
<text class="vb" transform="translate(1089.1 386.85) rotate(-90)" font-size="13.6" font-weight="700" textLength="60.95" lengthAdjust="spacingAndGlyphs">biblioteca</text>
<text class="vb" transform="translate(1107.2 436.3) rotate(-90)" font-size="13.6" font-weight="700" textLength="59.5" lengthAdjust="spacingAndGlyphs">comunală</text>
<text class="vb" transform="translate(100.3 406.1) rotate(-90)" font-size="13.8" font-weight="700" text-anchor="middle" textLength="7.4" lengthAdjust="spacingAndGlyphs">2</text>
<text class="vb" transform="translate(173.8 405.8) rotate(-90)" font-size="13.8" font-weight="700" text-anchor="middle" textLength="7.4" lengthAdjust="spacingAndGlyphs">1</text>
<text class="vb" transform="translate(248.6 406.2) rotate(-90)" font-size="13.8" font-weight="700" text-anchor="middle" textLength="7.4" lengthAdjust="spacingAndGlyphs">5</text>
<text class="vb" transform="translate(323.6 406.2) rotate(-90)" font-size="13.8" font-weight="700" text-anchor="middle" textLength="7.4" lengthAdjust="spacingAndGlyphs">5</text>
<text class="vb" transform="translate(396.8 405.2) rotate(-90)" font-size="13.8" font-weight="700" text-anchor="middle" textLength="7.4" lengthAdjust="spacingAndGlyphs">1</text>
<text class="vb" transform="translate(480.4 660.2) rotate(-90)" font-size="13.8" font-weight="700" text-anchor="middle" textLength="7.4" lengthAdjust="spacingAndGlyphs">1</text>
<text class="vb" transform="translate(568.4 660.3) rotate(-90)" font-size="13.8" font-weight="700" text-anchor="middle" textLength="7.4" lengthAdjust="spacingAndGlyphs">3</text>
<text class="vb" transform="translate(640.2 660.1) rotate(-90)" font-size="13.8" font-weight="700" text-anchor="middle" textLength="7.4" lengthAdjust="spacingAndGlyphs">1</text>
<text class="vb" transform="translate(716 660.2) rotate(-90)" font-size="13.8" font-weight="700" text-anchor="middle" textLength="7.4" lengthAdjust="spacingAndGlyphs">1</text>
<text class="vb" transform="translate(791.6 660.1) rotate(-90)" font-size="13.8" font-weight="700" text-anchor="middle" textLength="7.4" lengthAdjust="spacingAndGlyphs">5</text>
<text class="vb" transform="translate(867 659.4) rotate(-90)" font-size="13.8" font-weight="700" text-anchor="middle" textLength="7.4" lengthAdjust="spacingAndGlyphs">1</text>
<text class="vb" transform="translate(943.5 406.4) rotate(-90)" font-size="13.8" font-weight="700" text-anchor="middle" textLength="7.4" lengthAdjust="spacingAndGlyphs">1</text>
<text class="vb" transform="translate(1035.1 406.9) rotate(-90)" font-size="13.8" font-weight="700" text-anchor="middle" textLength="7.4" lengthAdjust="spacingAndGlyphs">3</text>
<text class="vb" transform="translate(1125.9 406.8) rotate(-90)" font-size="13.8" font-weight="700" text-anchor="middle" textLength="7.4" lengthAdjust="spacingAndGlyphs">1</text>
</g>
</svg></body></html>
